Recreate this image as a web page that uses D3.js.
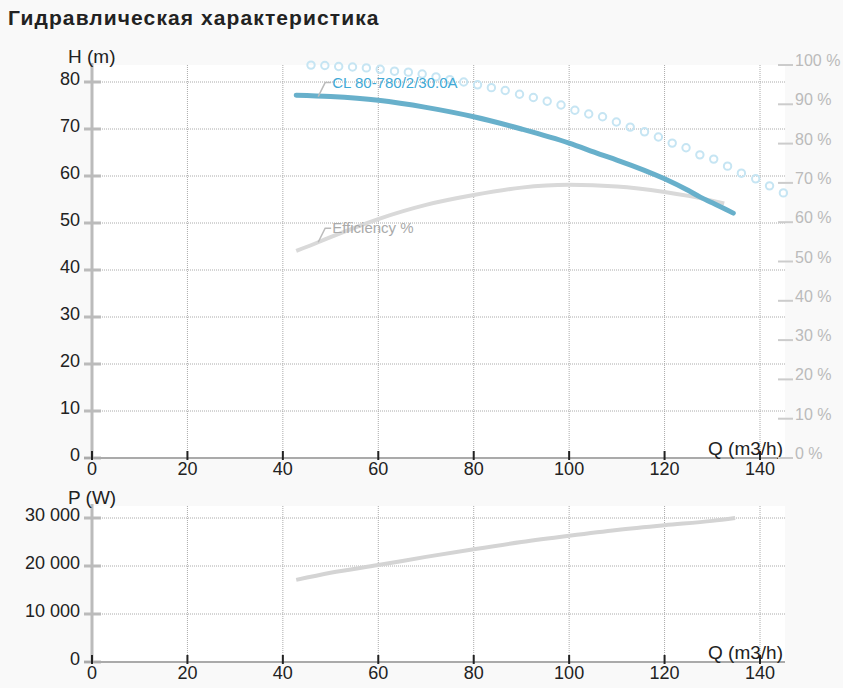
<!DOCTYPE html>
<html lang="ru">
<head>
<meta charset="UTF-8">
<title>Гидравлическая характеристика</title>
<script src="https://d3js.org/d3.v7.min.js"></script>
<style>
  body { margin: 0; background: #f9f9f9; font-family: "Liberation Sans", Arial, sans-serif; }
</style>
</head>
<body>
<script>
// H(Q) curve
const qHead = [42.8, 50, 60, 70, 80, 90, 100, 106.5, 110, 120, 125, 127.5, 130, 134.4];
const head = [77.2, 76.9, 76.1, 74.6, 72.6, 70.0, 67.0, 64.6, 63.4, 59.4, 56.9, 55.5, 54.3, 52.1];

// efficiency curve (%)
const qEff = [42.8, 47.4, 50, 60, 70, 80, 90, 100, 110, 120, 125, 132.5];
const eff = [52.7, 54.9, 56.2, 60.8, 64.4, 66.9, 68.8, 69.5, 69.1, 67.7, 66.7, 64.8];

// dotted curve (m)
const qDots = [45.9, 48.8, 51.7, 54.6, 57.5, 60.4, 63.4, 66.3, 69.2, 72.1, 75.0, 77.9, 80.8, 83.7, 86.6,
  89.6, 92.5, 95.4, 98.3, 101.2, 104.1, 107.0, 109.9, 112.8, 115.8, 118.7, 121.6, 124.5, 127.4, 130.3,
  133.2, 136.1, 139.1, 142.0, 144.9];
const hDots = [83.6, 83.5, 83.3, 83.2, 83.0, 82.7, 82.3, 82.1, 81.7, 81.1, 80.5, 80.0, 79.4, 78.8, 78.2,
  77.4, 76.7, 75.9, 75.1, 74.0, 73.2, 72.6, 71.5, 70.4, 69.4, 68.3, 67.0, 66.0, 64.5, 63.6,
  62.1, 60.6, 59.4, 57.9, 56.4];

// power curve (W)
const qPow = [42.8, 50, 60, 70, 80, 90, 100, 110, 120, 130, 134.8];
const power = [17100, 18600, 20200, 21900, 23500, 25000, 26300, 27500, 28500, 29400, 30000];

const qTicks = [0, 20, 40, 60, 80, 100, 120, 140];
const hTicks = [0, 10, 20, 30, 40, 50, 60, 70, 80];
const effTicks = [0, 10, 20, 30, 40, 50, 60, 70, 80, 90, 100];
const powTicks = [0, 10000, 20000, 30000];

const W = 843, H = 688;
const left = 92, right = 785;
const top1 = 65, bottom1 = 458;
const top2 = 506, bottom2 = 662;

const svg = d3.select("body").append("svg")
  .attr("width", W).attr("height", H)
  .style("display", "block");

svg.append("text")
  .attr("x", 8).attr("y", 25)
  .attr("font-size", 21).attr("font-weight", "bold")
  .attr("letter-spacing", 1.1)
  .attr("fill", "#222")
  .text("Гидравлическая характеристика");

const x = d3.scaleLinear().domain([0, 140]).range([left, 760]);
const yH = d3.scaleLinear().domain([0, 80]).range([bottom1, 82]);
const yE = d3.scaleLinear().domain([0, 100]).range([bottom1, top1]);
const yP = d3.scaleLinear().domain([0, 30000]).range([bottom2, 518]);

const fmt = d => d3.format(",")(d).replace(/,/g, " ");

function panel(top, bottom, y, ticks, yLabel) {
  const g = svg.append("g");
  g.append("rect")
    .attr("x", left).attr("y", top)
    .attr("width", right - left).attr("height", bottom - top)
    .attr("fill", "#fff");

  // vertical grid
  g.selectAll(".vg").data(qTicks.filter(d => d > 0)).enter()
    .append("line")
    .attr("x1", d => x(d)).attr("x2", d => x(d))
    .attr("y1", top).attr("y2", bottom)
    .attr("stroke", "#aaa").attr("stroke-dasharray", "1,1");

  // horizontal grid
  g.selectAll(".hg").data(ticks.filter(d => d > 0)).enter()
    .append("line")
    .attr("x1", left).attr("x2", right)
    .attr("y1", d => y(d)).attr("y2", d => y(d))
    .attr("stroke", "#aaa").attr("stroke-dasharray", "1,1");

  // left axis
  g.append("line")
    .attr("x1", left).attr("x2", left)
    .attr("y1", top - 2).attr("y2", bottom)
    .attr("stroke", "#bbb").attr("stroke-width", 3);
  g.selectAll(".lt").data(ticks).enter()
    .append("line")
    .attr("x1", left - 8).attr("x2", left + 9)
    .attr("y1", d => y(d)).attr("y2", d => y(d))
    .attr("stroke", "#bbb").attr("stroke-width", 3);
  g.selectAll(".ll").data(ticks).enter()
    .append("text")
    .attr("x", left - 12).attr("y", d => y(d) + 3)
    .attr("text-anchor", "end")
    .attr("font-size", 18).attr("fill", "#222")
    .text(fmt);

  g.append("text")
    .attr("x", 68).attr("y", top - 2)
    .attr("font-size", 19).attr("fill", "#222")
    .text(yLabel);

  // bottom axis
  g.append("line")
    .attr("x1", left - 8).attr("x2", right)
    .attr("y1", bottom).attr("y2", bottom)
    .attr("stroke", "#aaa").attr("stroke-width", 2);
  g.selectAll(".bt").data(qTicks).enter()
    .append("line")
    .attr("x1", d => x(d)).attr("x2", d => x(d))
    .attr("y1", bottom - 7).attr("y2", bottom + 2)
    .attr("stroke", "#222").attr("stroke-width", 2);
  g.selectAll(".bl").data(qTicks).enter()
    .append("text")
    .attr("x", d => x(d)).attr("y", bottom + 17)
    .attr("text-anchor", "middle")
    .attr("font-size", 18).attr("fill", "#222")
    .text(d => d);
  g.append("text")
    .attr("x", right - 2).attr("y", bottom - 3)
    .attr("text-anchor", "end")
    .attr("font-size", 19).attr("fill", "#222")
    .text("Q (m3/h)");
  return g;
}

panel(top1, bottom1, yH, hTicks, "H (m)");
panel(top2, bottom2, yP, powTicks, "P (W)");

// right efficiency axis
svg.selectAll(".rt").data(effTicks).enter()
  .append("line")
  .attr("x1", 778).attr("x2", 793)
  .attr("y1", d => yE(d)).attr("y2", d => yE(d))
  .attr("stroke", "#ccc").attr("stroke-width", 2);
svg.selectAll(".rl").data(effTicks).enter()
  .append("text")
  .attr("x", 795).attr("y", d => yE(d) + 1)
  .attr("font-size", 16).attr("fill", "#bbb")
  .text(d => d + " %");

const line = (xs, ys, yScale) => d3.line()
  .x((d, i) => x(xs[i]))
  .y(d => yScale(d))
  .curve(d3.curveMonotoneX)(ys);

// efficiency
svg.append("path")
  .attr("d", line(qEff, eff, yE))
  .attr("fill", "none").attr("stroke", "#d9d9d9").attr("stroke-width", 4);

// dotted curve
svg.selectAll(".dot").data(hDots).enter()
  .append("circle")
  .attr("cx", (d, i) => x(qDots[i])).attr("cy", d => yH(d))
  .attr("r", 3.7)
  .attr("fill", "none").attr("stroke", "#c6e5f3").attr("stroke-width", 2);

// head
svg.append("path")
  .attr("d", line(qHead, head, yH))
  .attr("fill", "none").attr("stroke", "#68b0cb").attr("stroke-width", 5)
  .attr("stroke-linecap", "round");

// power
svg.append("path")
  .attr("d", line(qPow, power, yP))
  .attr("fill", "none").attr("stroke", "#d4d4d4").attr("stroke-width", 4);

// labels with leaders
const hx = x(47.4), hy = yH(76.9);
svg.append("path")
  .attr("d", `M${hx},${hy} L${hx + 7},${hy - 14} L${hx + 13},${hy - 14}`)
  .attr("fill", "none").attr("stroke", "#bbb").attr("stroke-width", 1.5);
svg.append("text")
  .attr("x", hx + 14).attr("y", hy - 9)
  .attr("font-size", 15).attr("fill", "#3fa9d6")
  .text("CL 80-780/2/30.0A");

const ex = x(47.4), ey = yE(54.9);
svg.append("path")
  .attr("d", `M${ex},${ey} L${ex + 7},${ey - 14} L${ex + 13},${ey - 14}`)
  .attr("fill", "none").attr("stroke", "#bbb").attr("stroke-width", 1.5);
svg.append("text")
  .attr("x", ex + 14).attr("y", ey - 9)
  .attr("font-size", 15).attr("fill", "#aaa")
  .text("Efficiency %");
</script>
</body>
</html>
